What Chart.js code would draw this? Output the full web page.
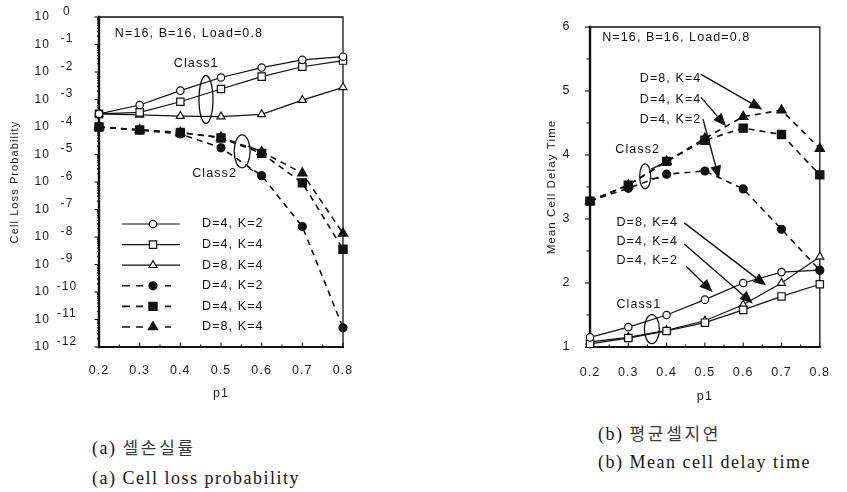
<!DOCTYPE html>
<html>
<head>
<meta charset="utf-8">
<script src="https://cdn.jsdelivr.net/npm/chart.js@4.4.1/dist/chart.umd.min.js"></script>
<style>
  html, body { margin: 0; padding: 0; background: #fff; width: 847px; height: 492px; overflow: hidden; }
  #lossCanvas { position: absolute; left: 0; top: 0; }
  #delayCanvas { position: absolute; left: 470px; top: 0; }
  .cap { position: absolute; font-family: "Liberation Serif", "Times New Roman", serif; font-size: 18px;
         color: #151515; white-space: nowrap; letter-spacing: 1.5px; line-height: 20px; }
  .kr { font-family: "Noto Sans CJK KR", sans-serif; font-size: 17px; letter-spacing: 2.7px; color: #3a3a3a; }
</style>
</head>
<body>
<canvas id="lossCanvas" width="420" height="410"></canvas>
<canvas id="delayCanvas" width="377" height="410"></canvas>
<div class="cap" style="left:92px; top:437px;">(a) <span class="kr">셀손실률</span></div>
<div class="cap" style="left:92px; top:468px;">(a) Cell loss probability</div>
<div class="cap" style="left:598px; top:423px;">(b) <span class="kr">평균셀지연</span></div>
<div class="cap" style="left:598px; top:452px;">(b) Mean cell delay time</div>

<script>
// ---- data ----
const p1 = [0.2, 0.3, 0.4, 0.5, 0.6, 0.7, 0.8];
const lossExponents = [0, -1, -2, -3, -4, -5, -6, -7, -8, -9, -10, -11, -12];
const delayTicks = [1, 2, 3, 4, 5, 6];
const seriesNames = ['D=4, K=2', 'D=4, K=4', 'D=8, K=4'];

// Cell loss probability, Class1 (solid lines, open markers)
const lossClass1D4K2 = [3.0e-4, 6.3e-4, 2.1e-3, 6.3e-3, 1.45e-2, 2.75e-2, 3.6e-2];
const lossClass1D4K4 = [3.0e-4, 3.4e-4, 8.3e-4, 2.4e-3, 6.8e-3, 1.55e-2, 2.6e-2];
const lossClass1D8K4 = [3.0e-4, 2.75e-4, 2.5e-4, 2.4e-4, 2.9e-4, 9.5e-4, 2.75e-3];
// Cell loss probability, Class2 (dashed lines, filled markers)
const lossClass2D4K2 = [1.0e-4, 7.8e-5, 5.6e-5, 1.75e-5, 1.7e-6, 2.4e-8, 5.0e-12];
const lossClass2D4K4 = [1.0e-4, 7.8e-5, 6.3e-5, 4.0e-5, 1.1e-5, 9.3e-7, 3.6e-9];
const lossClass2D8K4 = [1.0e-4, 7.8e-5, 6.3e-5, 4.2e-5, 1.25e-5, 2.1e-6, 1.35e-8];

// Mean cell delay time
const delayClass1D4K2 = [1.15, 1.31, 1.50, 1.74, 2.00, 2.17, 2.20];
const delayClass1D4K4 = [1.05, 1.14, 1.25, 1.38, 1.58, 1.79, 1.98];
const delayClass1D8K4 = [1.08, 1.15, 1.26, 1.41, 1.66, 2.00, 2.41];
const delayClass2D4K2 = [3.28, 3.48, 3.70, 3.75, 3.47, 2.84, 2.20];
const delayClass2D4K4 = [3.28, 3.53, 3.90, 4.23, 4.42, 4.32, 3.69];
const delayClass2D8K4 = [3.28, 3.53, 3.90, 4.26, 4.60, 4.70, 4.10];

// ---- styling ----
const ink = '#111';
const textFont = '12.5px "Liberation Sans", Arial, sans-serif';
Chart.defaults.font.family = '"Liberation Sans", Arial, sans-serif';
Chart.defaults.color = '#1a1a1a';

const markerStyles = ['circle', 'rect', 'triangle'];
const openRadius = { circle: 3.7, rect: 5.2, triangle: 4.6 };
const filledRadius = { circle: 4.0, rect: 5.8, triangle: 5.4 };

function makeSeries(values, idx, cls) {
  const style = markerStyles[idx];
  const filled = cls === 2;
  return {
    label: seriesNames[idx],
    cls: cls,
    data: p1.map((x, i) => ({ x: x, y: values[i] })),
    borderColor: ink,
    borderWidth: filled ? 1.6 : 1.2,
    borderDash: filled ? [6, 5] : [],
    pointStyle: style,
    pointRadius: filled ? filledRadius[style] : openRadius[style],
    pointBackgroundColor: filled ? ink : '#fff',
    pointBorderColor: ink,
    pointBorderWidth: 1.2,
    fill: false,
    tension: 0,
    clip: false
  };
}

// text spacing shared by all canvas text
const spacingPlugin = {
  id: 'spacing',
  beforeDraw(chart) { chart.ctx.letterSpacing = '1.1px'; }
};

function drawArrow(ctx, x1, y1, x2, y2) {
  const ang = Math.atan2(y2 - y1, x2 - x1);
  const L = 13, W = 5.5;
  const bx = x2 - L * Math.cos(ang), by = y2 - L * Math.sin(ang);
  ctx.beginPath();
  ctx.moveTo(x1, y1);
  ctx.lineTo(bx, by);
  ctx.lineWidth = 1.4;
  ctx.stroke();
  ctx.beginPath();
  ctx.moveTo(x2, y2);
  ctx.lineTo(bx - W * Math.sin(ang), by + W * Math.cos(ang));
  ctx.lineTo(bx + W * Math.sin(ang), by - W * Math.cos(ang));
  ctx.closePath();
  ctx.fill();
}

// frame and tick marks of the plot box
function framePlugin(yTicks) {
  return {
    id: 'frame',
    beforeDatasetsDraw(chart) {
      const { ctx, chartArea: { left: L, right: R, top: T, bottom: B }, scales: { x, y } } = chart;
      ctx.save();
      ctx.strokeStyle = ink;
      ctx.lineCap = 'square';
      ctx.lineWidth = 1.3;
      ctx.beginPath(); ctx.moveTo(L, T); ctx.lineTo(R, T); ctx.lineTo(R, B); ctx.stroke();
      ctx.lineWidth = 2.0;
      ctx.beginPath(); ctx.moveTo(L, B); ctx.lineTo(R, B); ctx.stroke();
      ctx.lineWidth = 2.4;
      ctx.beginPath(); ctx.moveTo(L, T); ctx.lineTo(L, B); ctx.stroke();
      ctx.lineWidth = 1.1;
      ctx.lineCap = 'butt';
      // bottom axis: inward ticks
      for (let v = 0.2; v <= 0.8001; v += 0.05) {
        const px = x.getPixelForValue(v);
        const major = Math.abs(Math.round(v * 10) - v * 10) < 1e-6;
        ctx.beginPath(); ctx.moveTo(px, B); ctx.lineTo(px, B - (major ? 4.5 : 2.5)); ctx.stroke();
      }
      // left axis: outward ticks
      yTicks(y).forEach(t => {
        const py = y.getPixelForValue(t.v);
        ctx.beginPath(); ctx.moveTo(L, py); ctx.lineTo(L - t.len, py); ctx.stroke();
      });
      ctx.restore();
    }
  };
}

// labels, arrows and grouping ellipses drawn inside the plot
function notesPlugin(notes) {
  return {
    id: 'notes',
    afterDatasetsDraw(chart) {
      const { ctx, scales: { x, y } } = chart;
      const X = v => x.getPixelForValue(v), Y = v => y.getPixelForValue(v);
      ctx.save();
      ctx.fillStyle = ink;
      ctx.strokeStyle = ink;
      ctx.font = textFont;
      ctx.textAlign = 'left';
      ctx.textBaseline = 'middle';
      (notes.texts || []).forEach(t => ctx.fillText(t.text, X(t.x), Y(t.y)));
      ctx.lineWidth = 1.3;
      (notes.ellipses || []).forEach(e => {
        ctx.beginPath();
        ctx.ellipse(X(e.x), Y(e.y), e.rx, e.ry, 0, 0, Math.PI * 2);
        ctx.stroke();
      });
      (notes.links || []).forEach(l => {
        ctx.beginPath(); ctx.moveTo(X(l.x1), Y(l.y1)); ctx.lineTo(X(l.x2), Y(l.y2)); ctx.stroke();
      });
      (notes.arrows || []).forEach(a => drawArrow(ctx, X(a.x1), Y(a.y1), X(a.x2), Y(a.y2)));
      ctx.restore();
    }
  };
}

// ---------------- (a) Cell loss probability ----------------
const lossClass1 = [
  makeSeries(lossClass1D4K2, 0, 1),
  makeSeries(lossClass1D4K4, 1, 1),
  makeSeries(lossClass1D8K4, 2, 1)
];
const lossClass2 = [
  makeSeries(lossClass2D4K2, 0, 2),
  makeSeries(lossClass2D4K4, 1, 2),
  makeSeries(lossClass2D8K4, 2, 2)
];

const lossNotes = {
  texts: [
    { text: 'N=16, B=16, Load=0.8', x: 0.239, y: 0.24 },
    { text: 'Class1', x: 0.384, y: 1.95e-2 },
    { text: 'Class2', x: 0.429, y: 2.1e-6 }
  ],
  ellipses: [
    { x: 0.463, y: 1.0e-3, rx: 7, ry: 24 },
    { x: 0.552, y: 1.3e-5, rx: 8, ry: 16.5 }
  ],
  links: [
    { x1: 0.566, y1: 2.0e-5, x2: 0.591, y2: 1.45e-5 },
    { x1: 0.564, y1: 3.8e-6, x2: 0.579, y2: 2.5e-6 }
  ]
};

// legend box placed in the lower left of the plot
const lossLegend = {
  id: 'lossLegend',
  afterDatasetsDraw(chart) {
    const { ctx, chartArea: { left, top } } = chart;
    const entries = lossClass1.concat(lossClass2);
    ctx.save();
    ctx.font = textFont;
    ctx.textAlign = 'left';
    ctx.textBaseline = 'middle';
    entries.forEach((ds, i) => {
      const yy = top + 207 + i * 20.6;
      ctx.strokeStyle = ink;
      ctx.fillStyle = ink;
      ctx.lineWidth = ds.borderWidth;
      ctx.beginPath();
      if (ds.cls === 1) {
        ctx.moveTo(left + 23, yy); ctx.lineTo(left + 81, yy);
      } else {
        [[23, 31], [37, 44], [66, 72]].forEach(s => { ctx.moveTo(left + s[0], yy); ctx.lineTo(left + s[1], yy); });
      }
      ctx.stroke();
      ctx.fillStyle = ds.pointBackgroundColor;
      ctx.lineWidth = ds.pointBorderWidth;
      Chart.helpers.drawPoint(ctx, { pointStyle: ds.pointStyle, radius: ds.pointRadius, rotation: 0, borderWidth: ds.pointBorderWidth }, left + 54, yy);
      ctx.fillStyle = ink;
      ctx.fillText(ds.label, left + 103, yy);
    });
    ctx.restore();
  }
};

// y tick labels written as 10 with a raised exponent
const lossTickLabels = {
  id: 'lossTickLabels',
  afterDraw(chart) {
    const { ctx, scales: { y } } = chart;
    ctx.save();
    ctx.fillStyle = '#1a1a1a';
    ctx.font = '12px "Liberation Sans", Arial, sans-serif';
    ctx.textBaseline = 'middle';
    lossExponents.forEach(e => {
      const py = y.getPixelForValue(Math.pow(10, e));
      ctx.textAlign = 'right';
      ctx.fillText('10', 50, py);
      ctx.textAlign = 'center';
      ctx.fillText(e === 0 ? '0' : '-' + Math.abs(e), 67, py - 5.5);
    });
    ctx.restore();
  }
};

function lossAxisTicks() {
  const out = [];
  lossExponents.forEach(e => {
    out.push({ v: Math.pow(10, e), len: 4.5 });
    if (e > -12) {
      for (let m = 2; m <= 9; m++) out.push({ v: m * Math.pow(10, e - 1), len: 2 });
    }
  });
  return out;
}

new Chart(document.getElementById('lossCanvas'), {
  type: 'line',
  data: { datasets: lossClass2.concat(lossClass1) },
  options: {
    responsive: false,
    animation: false,
    devicePixelRatio: 1,
    layout: { padding: { left: 0, right: 77, top: 17, bottom: 0 } },
    plugins: { legend: { display: false }, tooltip: { enabled: false } },
    scales: {
      x: {
        type: 'linear', min: 0.2, max: 0.8,
        afterBuildTicks: s => { s.ticks = p1.map(v => ({ value: v })); },
        afterFit: s => { s.height = 63; },
        grid: { display: false, drawTicks: false },
        border: { display: false },
        ticks: { padding: 16.5, font: { size: 12.5 }, color: '#1a1a1a', callback: v => Number(v).toFixed(1) },
        title: { display: true, text: 'p1', font: { size: 12.5 }, color: '#1a1a1a', padding: { top: 0, bottom: 8.5 } }
      },
      y: {
        type: 'logarithmic', min: 1e-12, max: 1,
        afterBuildTicks: s => { s.ticks = lossExponents.map(e => ({ value: Math.pow(10, e) })); },
        afterFit: s => { s.width = 99; },
        grid: { display: false, drawTicks: false },
        border: { display: false },
        ticks: { display: false },
        title: { display: true, text: 'Cell Loss Probability', font: { size: 11 }, color: '#1a1a1a', padding: { top: 8.4, bottom: 0 } }
      }
    }
  },
  plugins: [spacingPlugin, framePlugin(lossAxisTicks), notesPlugin(lossNotes), lossLegend, lossTickLabels]
});

// ---------------- (b) Mean cell delay time ----------------
const delayClass1 = [
  makeSeries(delayClass1D4K2, 0, 1),
  makeSeries(delayClass1D4K4, 1, 1),
  makeSeries(delayClass1D8K4, 2, 1)
];
const delayClass2 = [
  makeSeries(delayClass2D4K2, 0, 2),
  makeSeries(delayClass2D4K4, 1, 2),
  makeSeries(delayClass2D8K4, 2, 2)
];

const delayNotes = {
  texts: [
    { text: 'N=16, B=16, Load=0.8', x: 0.232, y: 5.83 },
    { text: 'D=8, K=4', x: 0.330, y: 5.19 },
    { text: 'D=4, K=4', x: 0.330, y: 4.87 },
    { text: 'D=4, K=2', x: 0.330, y: 4.56 },
    { text: 'Class2', x: 0.266, y: 4.08 },
    { text: 'D=8, K=4', x: 0.269, y: 2.95 },
    { text: 'D=4, K=4', x: 0.269, y: 2.65 },
    { text: 'D=4, K=2', x: 0.269, y: 2.35 },
    { text: 'Class1', x: 0.269, y: 1.66 }
  ],
  ellipses: [
    { x: 0.344, y: 3.665, rx: 5.5, ry: 12.5 },
    { x: 0.3615, y: 1.28, rx: 7.5, ry: 14.5 }
  ],
  links: [
    { x1: 0.360, y1: 3.78, x2: 0.384, y2: 3.85 },
    { x1: 0.360, y1: 3.63, x2: 0.380, y2: 3.64 }
  ],
  arrows: [
    { x1: 0.49, y1: 5.26, x2: 0.65, y2: 4.71 },
    { x1: 0.49, y1: 4.90, x2: 0.555, y2: 4.45 },
    { x1: 0.495, y1: 4.56, x2: 0.537, y2: 3.63 },
    { x1: 0.446, y1: 2.94, x2: 0.660, y2: 1.96 },
    { x1: 0.446, y1: 2.61, x2: 0.625, y2: 1.68 },
    { x1: 0.451, y1: 2.26, x2: 0.520, y2: 1.86 }
  ]
};

function delayAxisTicks() {
  const out = [];
  for (let v = 1; v <= 6.001; v += 0.5) out.push({ v: v, len: Number.isInteger(v) ? 5 : 3.5 });
  return out;
}

new Chart(document.getElementById('delayCanvas'), {
  type: 'line',
  data: { datasets: delayClass2.concat(delayClass1) },
  options: {
    responsive: false,
    animation: false,
    devicePixelRatio: 1,
    layout: { padding: { left: 0, right: 13, top: 14, bottom: 0 } },
    plugins: { legend: { display: false }, tooltip: { enabled: false } },
    scales: {
      x: {
        type: 'linear', min: 0.2, max: 0.8,
        afterBuildTicks: s => { s.ticks = p1.map(v => ({ value: v })); },
        afterFit: s => { s.height = 63; },
        grid: { display: false, drawTicks: false },
        border: { display: false },
        ticks: { padding: 18.5, font: { size: 12.5 }, color: '#1a1a1a', callback: v => Number(v).toFixed(1) },
        title: { display: true, text: 'p1', font: { size: 12.5 }, color: '#1a1a1a', padding: { top: 0, bottom: 5.5 } }
      },
      y: {
        type: 'linear', min: 1, max: 6,
        afterBuildTicks: s => { s.ticks = delayTicks.map(v => ({ value: v })); },
        afterFit: s => { s.width = 120; },
        grid: { display: false, drawTicks: false },
        border: { display: false },
        ticks: { padding: 19.5, font: { size: 12.5 }, color: '#1a1a1a' },
        title: { display: true, text: 'Mean Cell Delay Time', font: { size: 11.5 }, color: '#1a1a1a', padding: { top: 75, bottom: 0 } }
      }
    }
  },
  plugins: [spacingPlugin, framePlugin(delayAxisTicks), notesPlugin(delayNotes)]
});
</script>
</body>
</html>
